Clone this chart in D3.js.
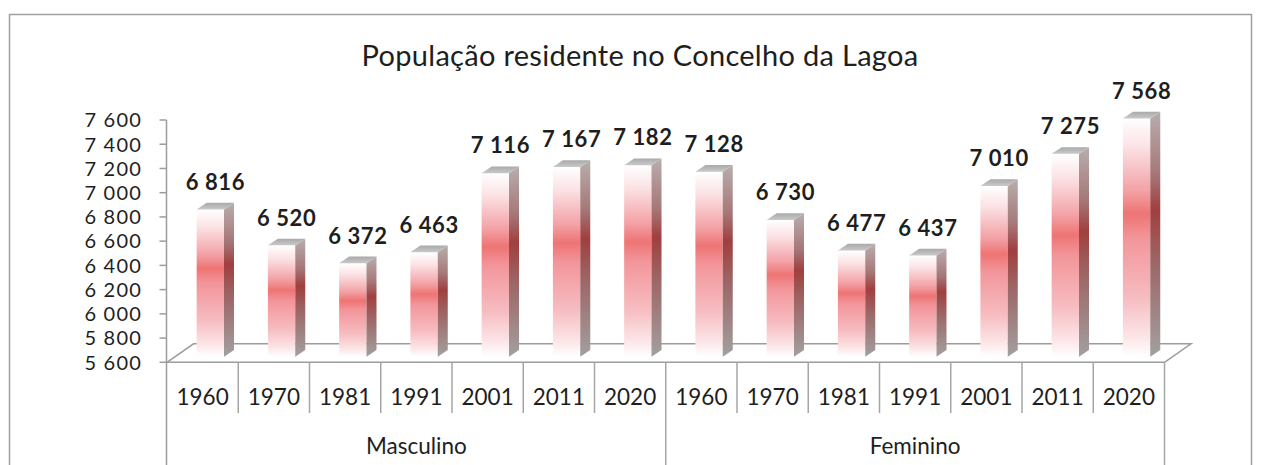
<!DOCTYPE html>
<html>
<head>
<meta charset="utf-8">
<script src="https://cdn.jsdelivr.net/npm/d3@7"></script>
<style>
  body { margin: 0; background: #fff; }
  text { font-family: Lato, "Open Sans", sans-serif; fill: #1e1e1e; }
</style>
</head>
<body>
<div class="chartDIV"></div>
<script>
// Data
var years = ["1960", "1970", "1981", "1991", "2001", "2011", "2020"];
var groups = ["Masculino", "Feminino"];
var masculino = [6816, 6520, 6372, 6463, 7116, 7167, 7182];
var feminino = [7128, 6730, 6477, 6437, 7010, 7275, 7568];
var yTicks = [5600, 5800, 6000, 6200, 6400, 6600, 6800, 7000, 7200, 7400, 7600];
var title = "População residente no Concelho da Lagoa";

var width = 1262,
    height = 465,
    depth = {dx: 26.5, dy: -18.5},   // floor depth of the 3d box
    barOff = {dx: 7.7, dy: -5.5},    // where the bars sit inside that depth
    barDepth = {dx: 10, dy: -6.7};   // thickness of each bar

var rows = [];
groups.forEach(function(g, gi) {
    var vals = gi === 0 ? masculino : feminino;
    years.forEach(function(yr, i) {
        rows.push({key: g + "-" + yr, group: g, year: yr, value: vals[i]});
    });
});

var fmt = d3.formatLocale({decimal: ",", thousands: " ", grouping: [3], currency: ["", " €"]}).format(",d");

var svg = d3.select(".chartDIV").append("svg")
    .attr("width", width)
    .attr("height", height);

var x = d3.scaleBand().domain(rows.map(function(d) { return d.key; })).range([167, 1164.5]),
    y = d3.scaleLinear().domain([5600, 7600]).range([362.3, 120]),
    gx = d3.scaleBand().domain(groups).range([167, 1164.5]);

var barW = x.bandwidth() * 0.384;

// gradients
var defs = svg.append("defs");
function grad(id, stops) {
    var lg = defs.append("linearGradient").attr("id", id)
        .attr("x1", 0).attr("y1", 0).attr("x2", 0).attr("y2", 1);
    stops.forEach(function(s) {
        lg.append("stop").attr("offset", s[0]).attr("stop-color", s[1]);
    });
}
grad("front", [[0, "#ffffff"], [0.12, "#fbe2e4"], [0.3, "#f3a3a7"], [0.4, "#ee7474"],
               [0.5, "#f2959a"], [0.75, "#f6bcc0"], [0.92, "#fce6e8"], [1, "#ffffff"]]);
grad("side", [[0, "#b9adad"], [0.25, "#a67878"], [0.4, "#a03f3f"], [0.6, "#9d6464"],
              [1, "#a2a0a0"]]);
grad("topf", [[0, "#a9a9a9"], [1, "#c9c9c9"]]);

// outer frame
svg.append("path")
    .attr("d", "M9.5," + height + "V14.5H1251.5V" + height)
    .attr("fill", "none").attr("stroke", "#a0a0a0").attr("stroke-width", 1.5);

// title
svg.append("text")
    .attr("x", 640).attr("y", 66)
    .attr("text-anchor", "middle")
    .style("font-size", "29px")
    .style("letter-spacing", "0.3px")
    .text(title);

var x0 = x.range()[0], x1 = x.range()[1], y0 = y(5600);

// floor (back edge and side edges)
svg.append("path")
    .attr("d", "M" + x0 + "," + y0 + "l" + depth.dx + "," + depth.dy +
               "H" + (x1 + depth.dx) + "L" + x1 + "," + y0)
    .attr("fill", "none").attr("stroke", "#9c9c9c").attr("stroke-width", 1.5);

// bars
var bar = svg.selectAll(".bar").data(rows).enter().append("g").attr("class", "bar");

function bx(d) { return x(d.key) + (x.bandwidth() - barW) / 2 + barOff.dx; }
function by(d) { return y(d.value) + barOff.dy; }
var bBottom = y0 + barOff.dy;

bar.append("rect")
    .attr("x", bx)
    .attr("y", by)
    .attr("width", barW)
    .attr("height", function(d) { return bBottom - by(d); })
    .attr("fill", "url(#front)");

bar.append("path")
    .attr("d", function(d) {
        var r = bx(d) + barW, t = by(d);
        return "M" + r + "," + t + "l" + barDepth.dx + "," + barDepth.dy +
               "V" + (bBottom + barDepth.dy) + "L" + r + "," + bBottom + "Z";
    })
    .attr("fill", "url(#side)");

bar.append("path")
    .attr("d", function(d) {
        var l = bx(d), t = by(d);
        return "M" + l + "," + t + "l" + barDepth.dx + "," + barDepth.dy +
               "h" + barW + "l" + (-barDepth.dx) + "," + (-barDepth.dy) + "Z";
    })
    .attr("fill", "url(#topf)");

// value labels
bar.append("text")
    .attr("x", function(d) { return bx(d) + barW / 2 + barDepth.dx / 2; })
    .attr("y", function(d) { return by(d) + barDepth.dy - 13; })
    .attr("text-anchor", "middle")
    .style("font-size", "22px")
    .style("font-weight", "bold")
    .style("letter-spacing", "0.6px")
    .text(function(d) { return fmt(d.value); });

// y axis
var yAxis = svg.append("g").attr("transform", "translate(166.5,0)");
yAxis.append("line").attr("y1", y(7600)).attr("y2", height)
    .attr("stroke", "#9c9c9c").attr("stroke-width", 1.5);
yAxis.selectAll(".tick").data(yTicks).enter().append("line")
    .attr("x1", -7).attr("x2", 0)
    .attr("y1", function(d) { return y(d); }).attr("y2", function(d) { return y(d); })
    .attr("stroke", "#9c9c9c").attr("stroke-width", 1.5);
yAxis.selectAll(".lbl").data(yTicks).enter().append("text")
    .attr("x", -24.5)
    .attr("y", function(d) { return y(d) + 7.3; })
    .attr("text-anchor", "end")
    .style("font-size", "20px")
    .style("letter-spacing", "1.2px")
    .text(function(d) { return fmt(d); });

// category axis: front edge, dividers, labels
svg.append("line").attr("x1", x0).attr("x2", x1).attr("y1", y0).attr("y2", y0)
    .attr("stroke", "#9c9c9c").attr("stroke-width", 1.5);

svg.selectAll(".div").data(rows.slice(1)).enter().append("line")
    .attr("x1", function(d) { return x(d.key); }).attr("x2", function(d) { return x(d.key); })
    .attr("y1", y0).attr("y2", function(d) { return d.year === years[0] ? height : 413; })
    .attr("stroke", "#a6a6a6").attr("stroke-width", 1.5);
svg.append("line").attr("x1", x1).attr("x2", x1).attr("y1", y0).attr("y2", height)
    .attr("stroke", "#a6a6a6").attr("stroke-width", 1.5);

svg.selectAll(".yr").data(rows).enter().append("text")
    .attr("x", function(d) { return x(d.key) + x.bandwidth() / 2; })
    .attr("y", 405)
    .attr("text-anchor", "middle")
    .style("font-size", "22.5px")
    .text(function(d) { return d.year; });

svg.selectAll(".grp").data(groups).enter().append("text")
    .attr("x", function(d) { return gx(d) + gx.bandwidth() / 2; })
    .attr("y", 454)
    .attr("text-anchor", "middle")
    .style("font-size", "22.5px")
    .text(function(d) { return d; });
</script>
</body>
</html>
